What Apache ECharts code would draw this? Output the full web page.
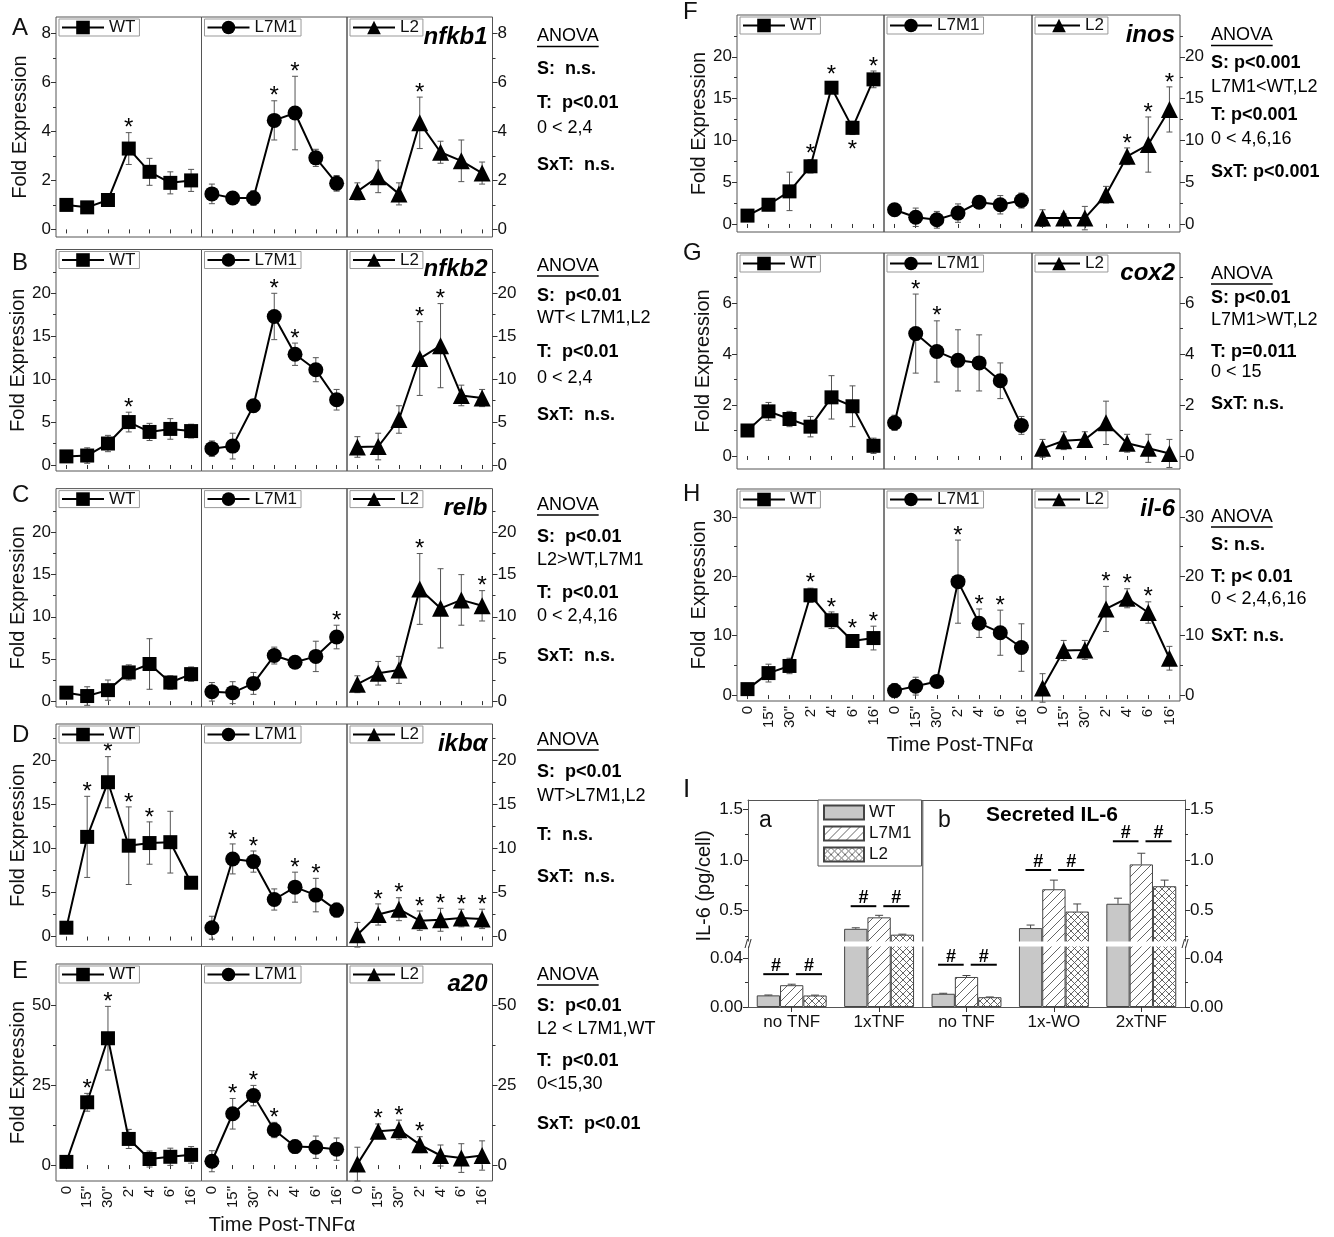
<!DOCTYPE html>
<html>
<head>
<meta charset="utf-8">
<script src="https://cdn.jsdelivr.net/npm/echarts@6/dist/echarts.min.js"></script>
<style>
  html, body { margin: 0; background: #fff; }
  #chart { width: 1334px; height: 1237px; }
</style>
</head>
<body>
<div id="chart"></div>
<script>
var chart = echarts.init(document.getElementById('chart'));
var FONT = "'Liberation Sans', Arial, sans-serif";
var INK = '#111';

var times = ['0', '15"', '30"', "2'", "4'", "6'", "16'"];
var strains = ['WT', 'L7M1', 'L2'];
var symbols = ['rect', 'circle', 'triangle'];
var symbolSizes = [14, 15, 17];

// A  nfkb1
var nfkb1WT = [1.0, 0.9, 1.2, 3.3, 2.35, 1.9, 2.0];
var nfkb1WTErr = [0.1, 0.15, 0.15, 0.65, 0.55, 0.45, 0.45];
var nfkb1WTSig = [0, 0, 0, 1, 0, 0, 0];
var nfkb1L7M1 = [1.45, 1.28, 1.28, 4.45, 4.75, 2.92, 1.88];
var nfkb1L7M1Err = [0.4, 0.2, 0.3, 0.8, 1.5, 0.35, 0.32];
var nfkb1L7M1Sig = [0, 0, 0, 1, 1, 0, 0];
var nfkb1L2 = [1.55, 2.15, 1.45, 4.35, 3.15, 2.8, 2.3];
var nfkb1L2Err = [0.35, 0.65, 0.45, 1.05, 0.45, 0.85, 0.45];
var nfkb1L2Sig = [0, 0, 0, 1, 0, 0, 0];

// B  nfkb2
var nfkb2WT = [1.0, 1.1, 2.5, 5.0, 3.85, 4.2, 3.95];
var nfkb2WTErr = [0.3, 0.9, 0.95, 1.15, 1.0, 1.2, 0.8];
var nfkb2WTSig = [0, 0, 0, 1, 0, 0, 0];
var nfkb2L7M1 = [1.9, 2.2, 6.9, 17.3, 12.9, 11.1, 7.6];
var nfkb2L7M1Err = [0.9, 1.5, 0.7, 2.7, 1.3, 1.4, 1.2];
var nfkb2L7M1Sig = [0, 0, 0, 1, 1, 0, 0];
var nfkb2L2 = [2.1, 2.15, 5.3, 12.4, 13.9, 8.1, 7.8];
var nfkb2L2Err = [1.2, 1.55, 1.6, 4.3, 4.9, 1.2, 1.0];
var nfkb2L2Sig = [0, 0, 0, 1, 1, 0, 0];

// C  relb
var relbWT = [1.0, 0.6, 1.3, 3.4, 4.4, 2.2, 3.2];
var relbWTErr = [0.7, 1.1, 1.2, 0.9, 3.0, 0.8, 0.85];
var relbWTSig = [0, 0, 0, 0, 0, 0, 0];
var relbL7M1 = [1.1, 1.0, 2.1, 5.4, 4.6, 5.3, 7.6];
var relbL7M1Err = [1.1, 1.3, 1.3, 1.0, 0.7, 1.8, 1.4];
var relbL7M1Sig = [0, 0, 0, 0, 0, 0, 1];
var relbL2 = [2.0, 3.3, 3.7, 13.3, 11.0, 12.0, 11.3];
var relbL2Err = [1.0, 1.4, 1.6, 4.2, 4.7, 3.0, 1.8];
var relbL2Sig = [0, 0, 0, 1, 0, 0, 1];

// D  ikba
var ikbaWT = [1.0, 11.3, 17.5, 10.3, 10.6, 10.7, 6.1];
var ikbaWTErr = [0.3, 4.6, 2.9, 4.4, 2.4, 3.5, 0.5];
var ikbaWTSig = [0, 1, 1, 1, 1, 0, 0];
var ikbaL7M1 = [1.0, 8.8, 8.5, 4.2, 5.6, 4.7, 3.0];
var ikbaL7M1Err = [1.3, 1.7, 1.2, 1.2, 1.7, 1.9, 0.8];
var ikbaL7M1Sig = [0, 1, 1, 0, 1, 1, 0];
var ikbaL2 = [0.2, 2.5, 3.1, 1.8, 1.9, 2.1, 2.0];
var ikbaL2Err = [1.4, 1.2, 1.3, 1.1, 1.3, 1.0, 1.1];
var ikbaL2Sig = [0, 1, 1, 1, 1, 1, 1];

// E  a20
var a20WT = [1.0, 19.7, 39.8, 8.2, 1.9, 2.6, 3.2];
var a20WTErr = [0.3, 2.8, 10.0, 3.0, 2.5, 2.7, 2.6];
var a20WTSig = [0, 1, 1, 0, 0, 0, 0];
var a20L7M1 = [1.2, 16.1, 21.8, 11.0, 5.8, 5.6, 5.0];
var a20L7M1Err = [3.3, 4.8, 3.2, 2.4, 2.0, 3.5, 3.5];
var a20L7M1Sig = [0, 1, 1, 1, 0, 0, 0];
var a20L2 = [0.3, 10.6, 11.1, 6.4, 3.0, 2.2, 3.0];
var a20L2Err = [5.3, 2.3, 3.0, 2.5, 3.3, 4.5, 4.6];
var a20L2Sig = [0, 1, 1, 1, 0, 0, 0];

// F  inos  (-1 = asterisk below the point)
var inosWT = [1.0, 2.3, 3.9, 6.9, 16.3, 11.5, 17.3];
var inosWTErr = [0.2, 0.7, 2.3, 0.8, 0.6, 0.8, 1.0];
var inosWTSig = [0, 0, 0, 1, 1, -1, 1];
var inosL7M1 = [1.7, 0.8, 0.5, 1.3, 2.6, 2.3, 2.8];
var inosL7M1Err = [0.6, 1.1, 1.0, 1.1, 0.5, 1.1, 0.9];
var inosL7M1Sig = [0, 0, 0, 0, 0, 0, 0];
var inosL2 = [0.7, 0.7, 0.7, 3.5, 8.1, 9.5, 13.7];
var inosL2Err = [1.0, 0.5, 1.4, 1.0, 1.0, 3.3, 2.7];
var inosL2Sig = [0, 0, 0, 0, 1, 1, 1];

// G  cox2
var cox2WT = [1.0, 1.75, 1.45, 1.15, 2.3, 1.95, 0.4];
var cox2WTErr = [0.07, 0.35, 0.3, 0.4, 0.85, 0.8, 0.3];
var cox2WTSig = [0, 0, 0, 0, 0, 0, 0];
var cox2L7M1 = [1.3, 4.8, 4.1, 3.75, 3.65, 2.95, 1.2];
var cox2L7M1Err = [0.3, 1.55, 1.2, 1.2, 1.1, 0.7, 0.35];
var cox2L7M1Sig = [0, 1, 1, 0, 0, 0, 0];
var cox2L2 = [0.3, 0.6, 0.65, 1.3, 0.5, 0.3, 0.1];
var cox2L2Err = [0.35, 0.35, 0.3, 0.85, 0.35, 0.55, 0.55];
var cox2L2Sig = [0, 0, 0, 0, 0, 0, 0];

// H  il-6
var il6WT = [1.0, 3.7, 4.9, 16.8, 12.6, 9.1, 9.6];
var il6WTErr = [0.3, 1.5, 1.3, 1.2, 1.4, 0.8, 2.0];
var il6WTSig = [0, 0, 0, 1, 1, 1, 1];
var il6L7M1 = [0.75, 1.5, 2.3, 19.1, 12.1, 10.5, 8.0];
var il6L7M1Err = [1.2, 1.5, 0.6, 7.0, 2.4, 3.8, 4.0];
var il6L7M1Sig = [0, 0, 0, 1, 1, 1, 0];
var il6L2 = [1.2, 7.5, 7.6, 14.5, 16.3, 13.9, 6.2];
var il6L2Err = [2.4, 1.7, 1.6, 3.8, 1.6, 1.8, 2.0];
var il6L2Sig = [0, 0, 0, 1, 1, 1, 0];

// I  secreted IL-6 (pg/cell)
var secCats = ['no TNF', '1xTNF', 'no TNF', '1x-WO', '2xTNF'];
var secWT = [0.0095, 0.32, 0.0108, 0.327, 0.567];
var secWTErr = [0.0003, 0.01, 0.0004, 0.03, 0.055];
var secL7M1 = [0.0178, 0.433, 0.0245, 0.71, 0.955];
var secL7M1Err = [0.0008, 0.02, 0.0012, 0.09, 0.11];
var secL2 = [0.0094, 0.262, 0.008, 0.49, 0.74];
var secL2Err = [0.0003, 0.005, 0.0002, 0.075, 0.06];
// "#" brackets: [category index, height of the bar line]
var hashLow = [[0, 0.0268], [2, 0.0345]];
var hashHigh = [[1, 0.543], [3, 0.90], [4, 1.183]];

var colX = [[56, 201.5, 347, 492.5], [737, 884, 1032, 1180]];
var minor5 = [2.5, 7.5, 12.5, 17.5, 22.5];

var panels = [
  { tag: 'A', tagY: 28, gene: 'nfkb1', col: 0, top: 17, bottom: 237, min: -0.31, max: 8.67,
    major: [0, 2, 4, 6, 8], minor: [1, 3, 5, 7], xLabels: false,
    data: [[nfkb1WT, nfkb1WTErr, nfkb1WTSig], [nfkb1L7M1, nfkb1L7M1Err, nfkb1L7M1Sig], [nfkb1L2, nfkb1L2Err, nfkb1L2Sig]],
    anova: [['ANOVA', 0, 36.5], ['S:  n.s.', 1, 69], ['T:  p<0.01', 1, 103], ['0 < 2,4', 0, 128], ['SxT:  n.s.', 1, 165.5]] },
  { tag: 'B', tagY: 263, gene: 'nfkb2', col: 0, top: 249.5, bottom: 471, min: -0.7, max: 25.1,
    major: [0, 5, 10, 15, 20], minor: minor5, xLabels: false,
    data: [[nfkb2WT, nfkb2WTErr, nfkb2WTSig], [nfkb2L7M1, nfkb2L7M1Err, nfkb2L7M1Sig], [nfkb2L2, nfkb2L2Err, nfkb2L2Sig]],
    anova: [['ANOVA', 0, 266], ['S:  p<0.01', 1, 296], ['WT< L7M1,L2', 0, 318], ['T:  p<0.01', 1, 352.5], ['0 < 2,4', 0, 378], ['SxT:  n.s.', 1, 415]] },
  { tag: 'C', tagY: 495, gene: 'relb', col: 0, top: 488.6, bottom: 707, min: -0.7, max: 25.2,
    major: [0, 5, 10, 15, 20], minor: minor5, xLabels: false,
    data: [[relbWT, relbWTErr, relbWTSig], [relbL7M1, relbL7M1Err, relbL7M1Sig], [relbL2, relbL2Err, relbL2Sig]],
    anova: [['ANOVA', 0, 505], ['S:  p<0.01', 1, 537], ['L2>WT,L7M1', 0, 560], ['T:  p<0.01', 1, 593], ['0 < 2,4,16', 0, 616], ['SxT:  n.s.', 1, 656]] },
  { tag: 'D', tagY: 735, gene: 'ikb\u03b1', col: 0, top: 724, bottom: 946.5, min: -1.13, max: 24.1,
    major: [0, 5, 10, 15, 20], minor: minor5, xLabels: false,
    data: [[ikbaWT, ikbaWTErr, ikbaWTSig], [ikbaL7M1, ikbaL7M1Err, ikbaL7M1Sig], [ikbaL2, ikbaL2Err, ikbaL2Sig]],
    anova: [['ANOVA', 0, 740], ['S:  p<0.01', 1, 772.5], ['WT>L7M1,L2', 0, 796], ['T:  n.s.', 1, 835], ['SxT:  n.s.', 1, 877]] },
  { tag: 'E', tagY: 971, gene: 'a20', col: 0, top: 964, bottom: 1181, min: -5.0, max: 63.1,
    major: [0, 25, 50], minor: [12.5, 37.5], xLabels: true, timeX: 282, timeY: 1225,
    data: [[a20WT, a20WTErr, a20WTSig], [a20L7M1, a20L7M1Err, a20L7M1Sig], [a20L2, a20L2Err, a20L2Sig]],
    anova: [['ANOVA', 0, 975], ['S:  p<0.01', 1, 1006], ['L2 < L7M1,WT', 0, 1029], ['T:  p<0.01', 1, 1061], ['0<15,30', 0, 1084], ['SxT:  p<0.01', 1, 1124]] },
  { tag: 'F', tagY: 12, gene: 'inos', col: 1, top: 15, bottom: 232, min: -0.96, max: 25.0,
    major: [0, 5, 10, 15, 20], minor: minor5, xLabels: false,
    data: [[inosWT, inosWTErr, inosWTSig], [inosL7M1, inosL7M1Err, inosL7M1Sig], [inosL2, inosL2Err, inosL2Sig]],
    anova: [['ANOVA', 0, 35.5], ['S: p<0.001', 1, 63], ['L7M1<WT,L2', 0, 87], ['T: p<0.001', 1, 115], ['0 < 4,6,16', 0, 139], ['SxT: p<0.001', 1, 172]] },
  { tag: 'G', tagY: 253, gene: 'cox2', col: 1, top: 253, bottom: 469, min: -0.51, max: 7.96,
    major: [0, 2, 4, 6], minor: [1, 3, 5, 7], xLabels: false,
    data: [[cox2WT, cox2WTErr, cox2WTSig], [cox2L7M1, cox2L7M1Err, cox2L7M1Sig], [cox2L2, cox2L2Err, cox2L2Sig]],
    anova: [['ANOVA', 0, 274], ['S: p<0.01', 1, 298], ['L7M1>WT,L2', 0, 320], ['T: p=0.011', 1, 352], ['0 < 15', 0, 372], ['SxT: n.s.', 1, 404]] },
  { tag: 'H', tagY: 494, gene: 'il-6', col: 1, top: 489, bottom: 701, min: -1.0, max: 34.7,
    major: [0, 10, 20, 30], minor: [5, 15, 25], xLabels: true, timeX: 960, timeY: 745, yName: 'Fold  Expression',
    data: [[il6WT, il6WTErr, il6WTSig], [il6L7M1, il6L7M1Err, il6L7M1Sig], [il6L2, il6L2Err, il6L2Sig]],
    anova: [['ANOVA', 0, 517], ['S: n.s.', 1, 545], ['T: p< 0.01', 1, 577], ['0 < 2,4,6,16', 0, 599], ['SxT: n.s.', 1, 636]] }
];

function strip(n) { return n.split('|')[0]; }

function onlyMajor(list, digits) {
  return function (v) {
    for (var i = 0; i < list.length; i++) {
      if (Math.abs(list[i] - v) < 1e-9) return digits ? v.toFixed(digits) : String(v);
    }
    return '';
  };
}

var measure = document.createElement('canvas').getContext('2d');

function renderErr(params, api) {
  var i = api.value(0), m = api.value(1), e = api.value(2), sig = api.value(3);
  var top = api.coord([i, m + e]), bot = api.coord([i, m - e]), mid = api.coord([i, m]);
  var x = mid[0], cap = 3;
  var st = { stroke: '#555', lineWidth: 1 };
  var kids = [
    { type: 'line', shape: { x1: x, y1: top[1], x2: x, y2: bot[1] }, style: st },
    { type: 'line', shape: { x1: x - cap, y1: top[1], x2: x + cap, y2: top[1] }, style: st },
    { type: 'line', shape: { x1: x - cap, y1: bot[1], x2: x + cap, y2: bot[1] }, style: st }
  ];
  if (sig) {
    var ty = sig > 0 ? Math.min(top[1], mid[1] - 8) - 4 : Math.max(bot[1], mid[1] + 8) + 15;
    kids.push({ type: 'text', x: x, y: ty,
      style: { text: '*', fontSize: 24, fontFamily: FONT, fill: '#000', align: 'center', verticalAlign: 'middle' } });
  }
  return { type: 'group', children: kids };
}

var grid = [], xAxis = [], yAxis = [], series = [], legend = [], graphic = [];

panels.forEach(function (p) {
  var xs = colX[p.col];
  for (var s = 0; s < 3; s++) {
    var gi = grid.length;
    grid.push({ left: xs[s], top: p.top, width: xs[s + 1] - xs[s], height: p.bottom - p.top,
      show: true, borderColor: '#555', borderWidth: 1, outerBoundsMode: 'none' });
    xAxis.push({ type: 'category', gridIndex: gi, data: times, boundaryGap: true,
      axisLine: { show: false }, splitLine: { show: false },
      axisTick: { show: true, alignWithLabel: true, interval: 0, length: 4, lineStyle: { color: '#333' } },
      axisLabel: { show: p.xLabels, interval: 0, rotate: 90, fontSize: 15, margin: 5, color: INK, fontFamily: FONT } });
    var yi = yAxis.length;
    var pos = s === 2 ? 'right' : 'left';
    yAxis.push({ type: 'value', gridIndex: gi, min: p.min, max: p.max, position: pos,
      axisLine: { show: false }, splitLine: { show: false },
      axisTick: { show: s !== 1, length: 5, customValues: p.major, lineStyle: { color: '#333' } },
      axisLabel: { show: s !== 1, customValues: p.major, formatter: onlyMajor(p.major, 0),
        fontSize: 17, margin: 5, color: INK, fontFamily: FONT },
      name: s === 0 ? (p.yName || 'Fold Expression') : '', nameLocation: 'middle',
      nameGap: p.col === 0 ? 26 : 24, nameTextStyle: { fontSize: 20, color: INK, fontFamily: FONT } });
    if (s !== 1) {
      yAxis.push({ type: 'value', gridIndex: gi, min: p.min, max: p.max, position: pos,
        axisLine: { show: false }, splitLine: { show: false }, axisLabel: { show: false },
        axisTick: { show: true, length: 3, customValues: p.minor, lineStyle: { color: '#333' } } });
    }
    var d = p.data[s];
    var nm = strains[s] + '|line';
    series.push({ type: 'line', name: nm, xAxisIndex: gi, yAxisIndex: yi, data: d[0],
      symbol: symbols[s], symbolSize: symbolSizes[s], showSymbol: true, showAllSymbol: true,
      lineStyle: { color: '#000', width: 2 }, itemStyle: { color: '#000' }, z: 3, silent: true });
    series.push({ type: 'custom', xAxisIndex: gi, yAxisIndex: yi, encode: { x: 0, y: 1 },
      data: d[0].map(function (m, i) { return [i, m, d[1][i], d[2][i]]; }),
      renderItem: renderErr, z: 2, silent: true });
    legend.push({ data: [nm], left: xs[s] + 3, top: p.top + 2, itemWidth: 42, itemHeight: 17,
      padding: [0, 4, 0, 2], borderColor: '#999', borderWidth: 1, backgroundColor: '#fff',
      selectedMode: false, formatter: strip, textStyle: { fontSize: 17, color: INK, fontFamily: FONT } });
  }
  var lx = p.col === 0 ? 12 : 683;
  graphic.push({ type: 'text', x: lx, y: p.tagY,
    style: { text: p.tag, fontSize: 24, fontFamily: FONT, fill: INK, verticalAlign: 'middle' } });
  graphic.push({ type: 'text', x: xs[3] - 5, y: p.top + 20,
    style: { text: p.gene, fontSize: 24, fontWeight: 'bold', fontStyle: 'italic', fontFamily: FONT,
      fill: '#000', align: 'right', verticalAlign: 'middle' } });
  var ax = p.col === 0 ? 537 : 1211;
  p.anova.forEach(function (ln) {
    graphic.push({ type: 'text', x: ax, y: ln[2],
      style: { text: ln[0], fontSize: 18, fontWeight: ln[1] ? 'bold' : 'normal', fontFamily: FONT,
        fill: '#000', verticalAlign: 'middle' } });
  });
  measure.font = '18px ' + FONT;
  var w = measure.measureText('ANOVA').width;
  graphic.push({ type: 'line', shape: { x1: ax, y1: p.anova[0][2] + 10, x2: ax + w, y2: p.anova[0][2] + 10 },
    style: { stroke: '#000', lineWidth: 1.5 } });
  if (p.xLabels) {
    graphic.push({ type: 'text', x: p.timeX, y: p.timeY,
      style: { text: 'Time Post-TNF\u03b1', fontSize: 20, fontFamily: FONT, fill: INK, align: 'center', verticalAlign: 'middle' } });
  }
});

// ---- panel I : broken-axis bar chart ----
function hatch(cross) {
  var n = cross ? 7 : 9;
  var c = document.createElement('canvas');
  c.width = c.height = n;
  var g = c.getContext('2d');
  g.fillStyle = '#fff';
  g.fillRect(0, 0, n, n);
  g.strokeStyle = '#555';
  g.lineWidth = 0.9;
  g.beginPath();
  g.moveTo(-1, n + 1); g.lineTo(n + 1, -1);
  if (cross) { g.moveTo(-1, -1); g.lineTo(n + 1, n + 1); }
  g.stroke();
  return c;
}
var fills = ['#c8c8c8', { image: hatch(false), repeat: 'repeat' }, { image: hatch(true), repeat: 'repeat' }];
var secVals = [secWT, secL7M1, secL2];
var secErrs = [secWTErr, secL7M1Err, secL2Err];

var iLeft = 748, iWidth = 437;
var iParts = [
  { top: 800, height: 143, min: 0.18, max: 1.59, major: [0.5, 1.0, 1.5], minor: [0.25, 0.75, 1.25], digits: 1, xpos: 'top', hash: hashHigh },
  { top: 945, height: 62, min: 0, max: 0.0506, major: [0, 0.04], minor: [0.02], digits: 2, xpos: 'bottom', hash: hashLow }
];

function renderBarErr(params, api) {
  var c = api.value(0), v = api.value(1), e = api.value(2), k = api.value(3);
  var bw = api.size([1, 0])[0] * 0.8 / 3;
  var base = api.coord([c, v]), top = api.coord([c, v + e]);
  var x = base[0] + (k - 1) * bw;
  var st = { stroke: '#444', lineWidth: 1 };
  return { type: 'group', children: [
    { type: 'line', shape: { x1: x, y1: base[1], x2: x, y2: top[1] }, style: st },
    { type: 'line', shape: { x1: x - 4, y1: top[1], x2: x + 4, y2: top[1] }, style: st }
  ] };
}

function renderHash(params, api) {
  var c = api.value(0), y = api.value(1), pair = api.value(2);
  var bw = api.size([1, 0])[0] * 0.8 / 3;
  var pt = api.coord([c, y]);
  var x1 = pt[0] + (pair === 0 ? -1.22 : 0.18) * bw;
  var x2 = pt[0] + (pair === 0 ? -0.12 : 1.3) * bw;
  return { type: 'group', children: [
    { type: 'line', shape: { x1: x1, y1: pt[1], x2: x2, y2: pt[1] }, style: { stroke: '#000', lineWidth: 2 } },
    { type: 'text', x: (x1 + x2) / 2, y: pt[1] + 1,
      style: { text: '#', fontSize: 18, fontWeight: 'bold', fontFamily: FONT, fill: '#000', align: 'center', verticalAlign: 'bottom' } }
  ] };
}

iParts.forEach(function (q, qi) {
  var gi = grid.length;
  grid.push({ left: iLeft, width: iWidth, top: q.top, height: q.height, show: false, outerBoundsMode: 'none' });
  xAxis.push({ type: 'category', gridIndex: gi, data: secCats, position: q.xpos, boundaryGap: true,
    axisLine: { show: true, lineStyle: { color: '#555' } },
    axisTick: { show: qi === 1, alignWithLabel: true, length: 5, lineStyle: { color: '#333' } },
    axisLabel: { show: qi === 1, interval: 0, fontSize: 17, margin: 7, color: INK, fontFamily: FONT },
    splitLine: { show: false } });
  var yi = yAxis.length;
  ['left', 'right'].forEach(function (pos) {
    yAxis.push({ type: 'value', gridIndex: gi, min: q.min, max: q.max, position: pos,
      axisLine: { show: true, lineStyle: { color: '#555' } }, splitLine: { show: false },
      axisTick: { show: true, length: 5, customValues: q.major, lineStyle: { color: '#333' } },
      axisLabel: { show: true, customValues: q.major, formatter: onlyMajor(q.major, q.digits),
        fontSize: 17, margin: 5, color: INK, fontFamily: FONT } });
    yAxis.push({ type: 'value', gridIndex: gi, min: q.min, max: q.max, position: pos,
      axisLine: { show: false }, splitLine: { show: false }, axisLabel: { show: false },
      axisTick: { show: true, length: 3, customValues: q.minor, lineStyle: { color: '#333' } } });
  });
  for (var k = 0; k < 3; k++) {
    series.push({ type: 'bar', name: strains[k] + '|bar', xAxisIndex: gi, yAxisIndex: yi,
      data: secVals[k], barGap: '0%', barCategoryGap: '20%', clip: true, silent: true,
      itemStyle: { color: fills[k], borderColor: '#444', borderWidth: 1 } });
    (function (kk) {
      series.push({ type: 'custom', xAxisIndex: gi, yAxisIndex: yi, encode: { x: 0, y: 1 }, clip: true, silent: true, z: 3,
        data: secVals[kk].map(function (v, i) { return [i, v, secErrs[kk][i], kk]; }),
        renderItem: renderBarErr });
    })(k);
  }
  var hd = [];
  q.hash.forEach(function (h) { hd.push([h[0], h[1], 0]); hd.push([h[0], h[1], 1]); });
  series.push({ type: 'custom', xAxisIndex: gi, yAxisIndex: yi, encode: { x: 0, y: 1 }, silent: true, z: 4,
    data: hd, renderItem: renderHash });
});

legend.push({ data: ['WT|bar', 'L7M1|bar', 'L2|bar'], orient: 'vertical', left: 818, top: 800,
  itemWidth: 40, itemHeight: 14, itemGap: 4, icon: 'rect', padding: [4, 10, 3, 5],
  borderColor: '#555', borderWidth: 1, backgroundColor: '#fff', selectedMode: false, formatter: strip,
  textStyle: { fontSize: 17, color: INK, fontFamily: FONT } });

graphic.push(
  { type: 'text', x: 683, y: 790, style: { text: 'I', fontSize: 26, fontFamily: FONT, fill: INK, verticalAlign: 'middle' } },
  { type: 'text', x: 759, y: 821, style: { text: 'a', fontSize: 23, fontFamily: FONT, fill: INK, verticalAlign: 'middle' } },
  { type: 'text', x: 938, y: 821, style: { text: 'b', fontSize: 23, fontFamily: FONT, fill: INK, verticalAlign: 'middle' } },
  { type: 'text', x: 1052, y: 815, style: { text: 'Secreted IL-6', fontSize: 21, fontWeight: 'bold', fontFamily: FONT, fill: '#000', align: 'center', verticalAlign: 'middle' } },
  { type: 'text', x: 704, y: 886, rotation: Math.PI / 2, style: { text: 'IL-6 (pg/cell)', fontSize: 20, fontFamily: FONT, fill: INK, align: 'center', verticalAlign: 'middle' } },
  { type: 'line', shape: { x1: iLeft + iWidth * 2 / 5, y1: 800, x2: iLeft + iWidth * 2 / 5, y2: 1007 }, style: { stroke: '#444', lineWidth: 1 } },
  { type: 'rect', z: 100, shape: { x: iLeft - 6, y: 941.5, width: iWidth + 12, height: 5 }, style: { fill: '#fff' } },
  { type: 'text', z: 101, x: iLeft, y: 944, style: { text: '//', fontSize: 13, fontFamily: FONT, fill: '#333', align: 'center', verticalAlign: 'middle' } },
  { type: 'text', z: 101, x: iLeft + iWidth, y: 944, style: { text: '//', fontSize: 13, fontFamily: FONT, fill: '#333', align: 'center', verticalAlign: 'middle' } }
);

chart.setOption({
  backgroundColor: '#fff',
  animation: false,
  textStyle: { fontFamily: FONT },
  grid: grid,
  xAxis: xAxis,
  yAxis: yAxis,
  legend: legend,
  series: series,
  graphic: graphic
});
</script>
</body>
</html>
